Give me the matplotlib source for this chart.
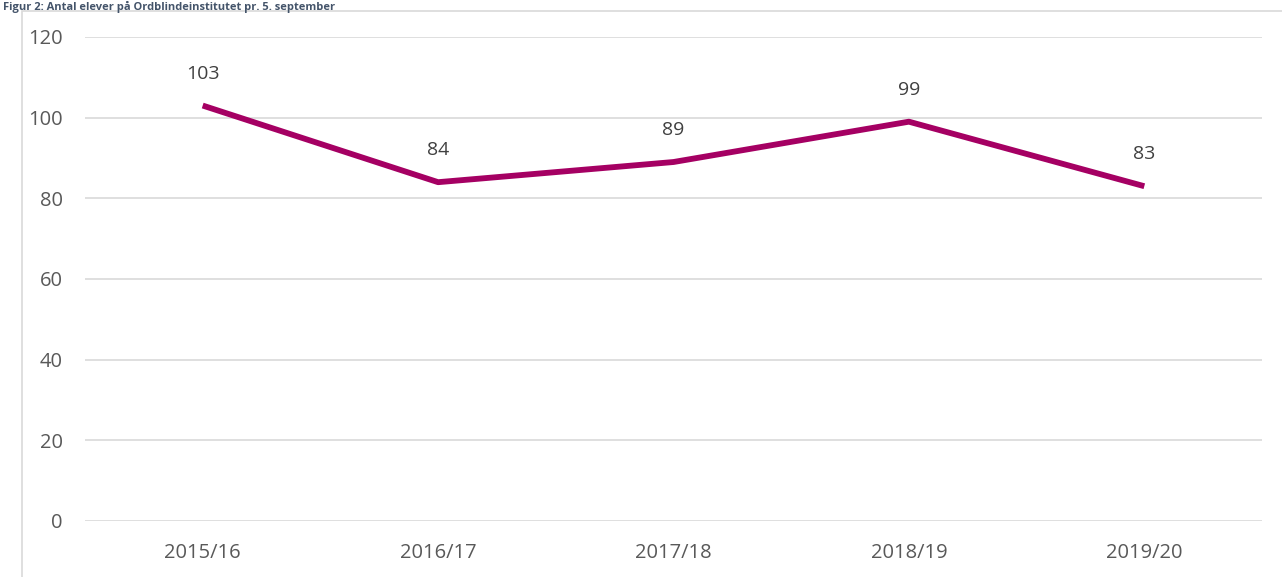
import matplotlib
matplotlib.use('Agg')
import matplotlib.pyplot as plt
from matplotlib.patches import Rectangle

years = ['2015/16', '2016/17', '2017/18', '2018/19', '2019/20']
students = [103, 84, 89, 99, 83]
yticks = [0, 20, 40, 60, 80, 100, 120]

title = 'Figur 2: Antal elever på Ordblindeinstitutet pr. 5. september'

plt.rcParams['font.family'] = ['Open Sans', 'DejaVu Sans']

fig = plt.figure(figsize=(12.82, 5.77), dpi=100)
ax = fig.add_axes([0.0663, 0.0971, 0.9181, 0.8388])

# outer chart border
fig.patches.append(Rectangle((22 / 1282, -0.01), 1.02, 1 - 11 / 577 + 0.01,
                             transform=fig.transFigure, fill=False,
                             edgecolor='#D9D9D9', linewidth=1.2))
fig.text(0.002, 0.999, title, ha='left', va='top', fontsize=8,
         fontweight='bold', color='#44546A')

x = list(range(len(years)))
ax.plot(x, students, color='#A50063', linewidth=4.2, solid_capstyle='butt', zorder=3)
for xi, v in zip(x, students):
    ax.annotate(str(v), (xi, v), xytext=(0, 23), textcoords='offset points',
                ha='center', va='center', fontsize=14, color='#404040')

ax.set_xlim(-0.5, len(years) - 0.5)
ax.set_ylim(0, 120)
ax.set_yticks(yticks)
ax.set_xticks(x)
ax.set_xticklabels(years)
ax.grid(axis='y', color='#D9D9D9', linewidth=1.2)
ax.set_axisbelow(True)
for s in ax.spines.values():
    s.set_visible(False)
ax.tick_params(length=0, labelsize=14.5, colors='#595959')
ax.tick_params(axis='y', pad=16)
ax.tick_params(axis='x', pad=16)

fig.savefig('out.png', dpi=100)
